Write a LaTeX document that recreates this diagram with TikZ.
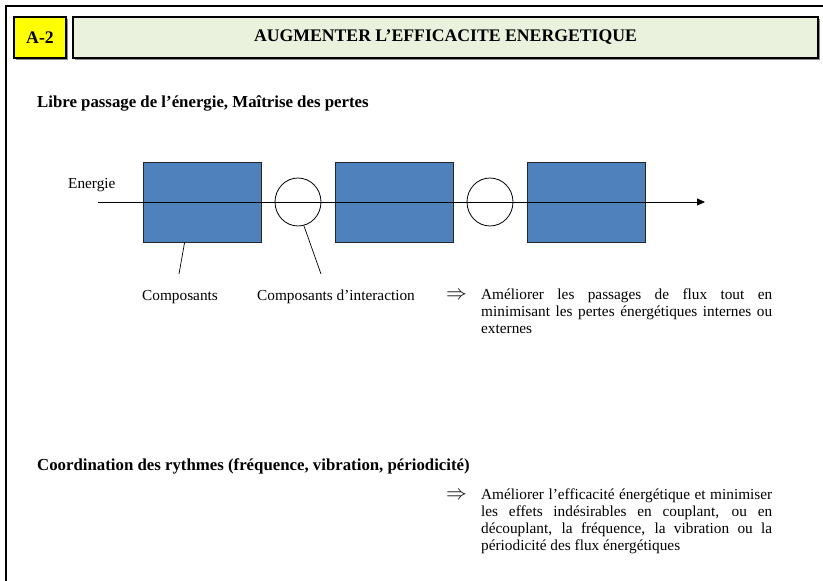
\documentclass[tikz,border=0pt]{standalone}
\usepackage{fontspec}
\setmainfont{Liberation Serif}
\usetikzlibrary{shapes.geometric,arrows.meta,calc}
\definecolor{boxblue}{HTML}{4F81BD}
\definecolor{titlegreen}{HTML}{EAF1DD}
\definecolor{hdryellow}{HTML}{FFFF00}
\begin{document}
\begin{tikzpicture}[x=1pt,y=-1pt,
  body/.style={font=\fontsize{15.3}{17}\selectfont, inner sep=0pt, anchor=west},
  implies/.style={font=\fontsize{20}{22}\selectfont, inner sep=0pt, anchor=west},
  block/.style={font=\fontsize{15.3}{17}\selectfont, inner sep=0pt, anchor=north west, align=left},
  head/.style={font=\fontsize{16.8}{19}\selectfont\bfseries, inner sep=0pt, anchor=west},
  hdrbox/.style={draw=black, line width=1.1pt, inner sep=0pt, minimum height=41pt, font=\fontsize{17.7}{20}\selectfont\bfseries},
  shadowbox/.style={fill=black!45, inner sep=0pt, minimum height=41pt},
  comp/.style={draw=black!85, line width=0.8pt, fill=boxblue, minimum width=118pt, minimum height=80pt, inner sep=0pt},
  ring/.style={draw=black, line width=0.8pt, ellipse, minimum width=46pt, minimum height=48pt, inner sep=0pt},
  leader/.style={draw=black, line width=0.7pt},
  flow/.style={draw=black, line width=0.8pt, -{Triangle[length=8pt,width=7pt]}}
]
\useasboundingbox (0,0) rectangle (823,581);
\begin{scope}
\clip (0,0) rectangle (823,581);
\draw[line width=1.3pt] (6,6) rectangle (840,600);
\end{scope}
% header
\node[shadowbox, minimum width=52pt] (s1) at (41.5,39) {};
\node[hdrbox, fill=hdryellow, minimum width=52pt] (a2) at (40,37.5) {A-2};
\node[shadowbox, minimum width=745pt] (s2) at (447,39) {};
\node[hdrbox, fill=titlegreen, minimum width=745pt] (title) at (445.5,37.5) {AUGMENTER L’EFFICACITE ENERGETIQUE};
% section 1
\node[head] (h1) at (37,103) {Libre passage de l’énergie, Maîtrise des pertes};
\node[body] (en) at (68,185) {Energie};
\node[comp] (b1) at (202,202) {};
\node[ring] (c1) at (298,202) {};
\node[comp] (b2) at (394.5,202) {};
\node[ring] (c2) at (490,202) {};
\node[comp] (b3) at (586,202) {};
\coordinate (as) at (98,202);
\coordinate (ae) at (705,202);
\draw[flow] (as) -- (ae);
\node[body] (l1) at (142,297) {Composants};
\node[body] (l2) at (257,297) {Composants d’interaction};
\coordinate (l1t) at (179,274);
\coordinate (l2t) at (321,274);
\draw[leader] ($(b1.south west)+(42,0)$) -- (l1t);
\draw[leader] (c1.-76) -- (l2t);
\node[implies] (r1) at (446,296) {$\Rightarrow$};
\node[block] (t1) at (481,289) {\makebox[291pt][s]{Améliorer les passages de flux tout en}\\
\makebox[291pt][s]{minimisant les pertes énergétiques internes ou}\\
externes};
% section 2
\node[head] (h2) at (37,466) {Coordination des rythmes (fréquence, vibration, périodicité)};
\node[implies] (r2) at (446,496) {$\Rightarrow$};
\node[block] (t2) at (481,489) {\makebox[291pt][s]{Améliorer l’efficacité énergétique et minimiser}\\
\makebox[291pt][s]{les effets indésirables en couplant, ou en}\\
\makebox[291pt][s]{découplant, la fréquence, la vibration ou la}\\
périodicité des flux énergétiques};
\end{tikzpicture}
\end{document}
